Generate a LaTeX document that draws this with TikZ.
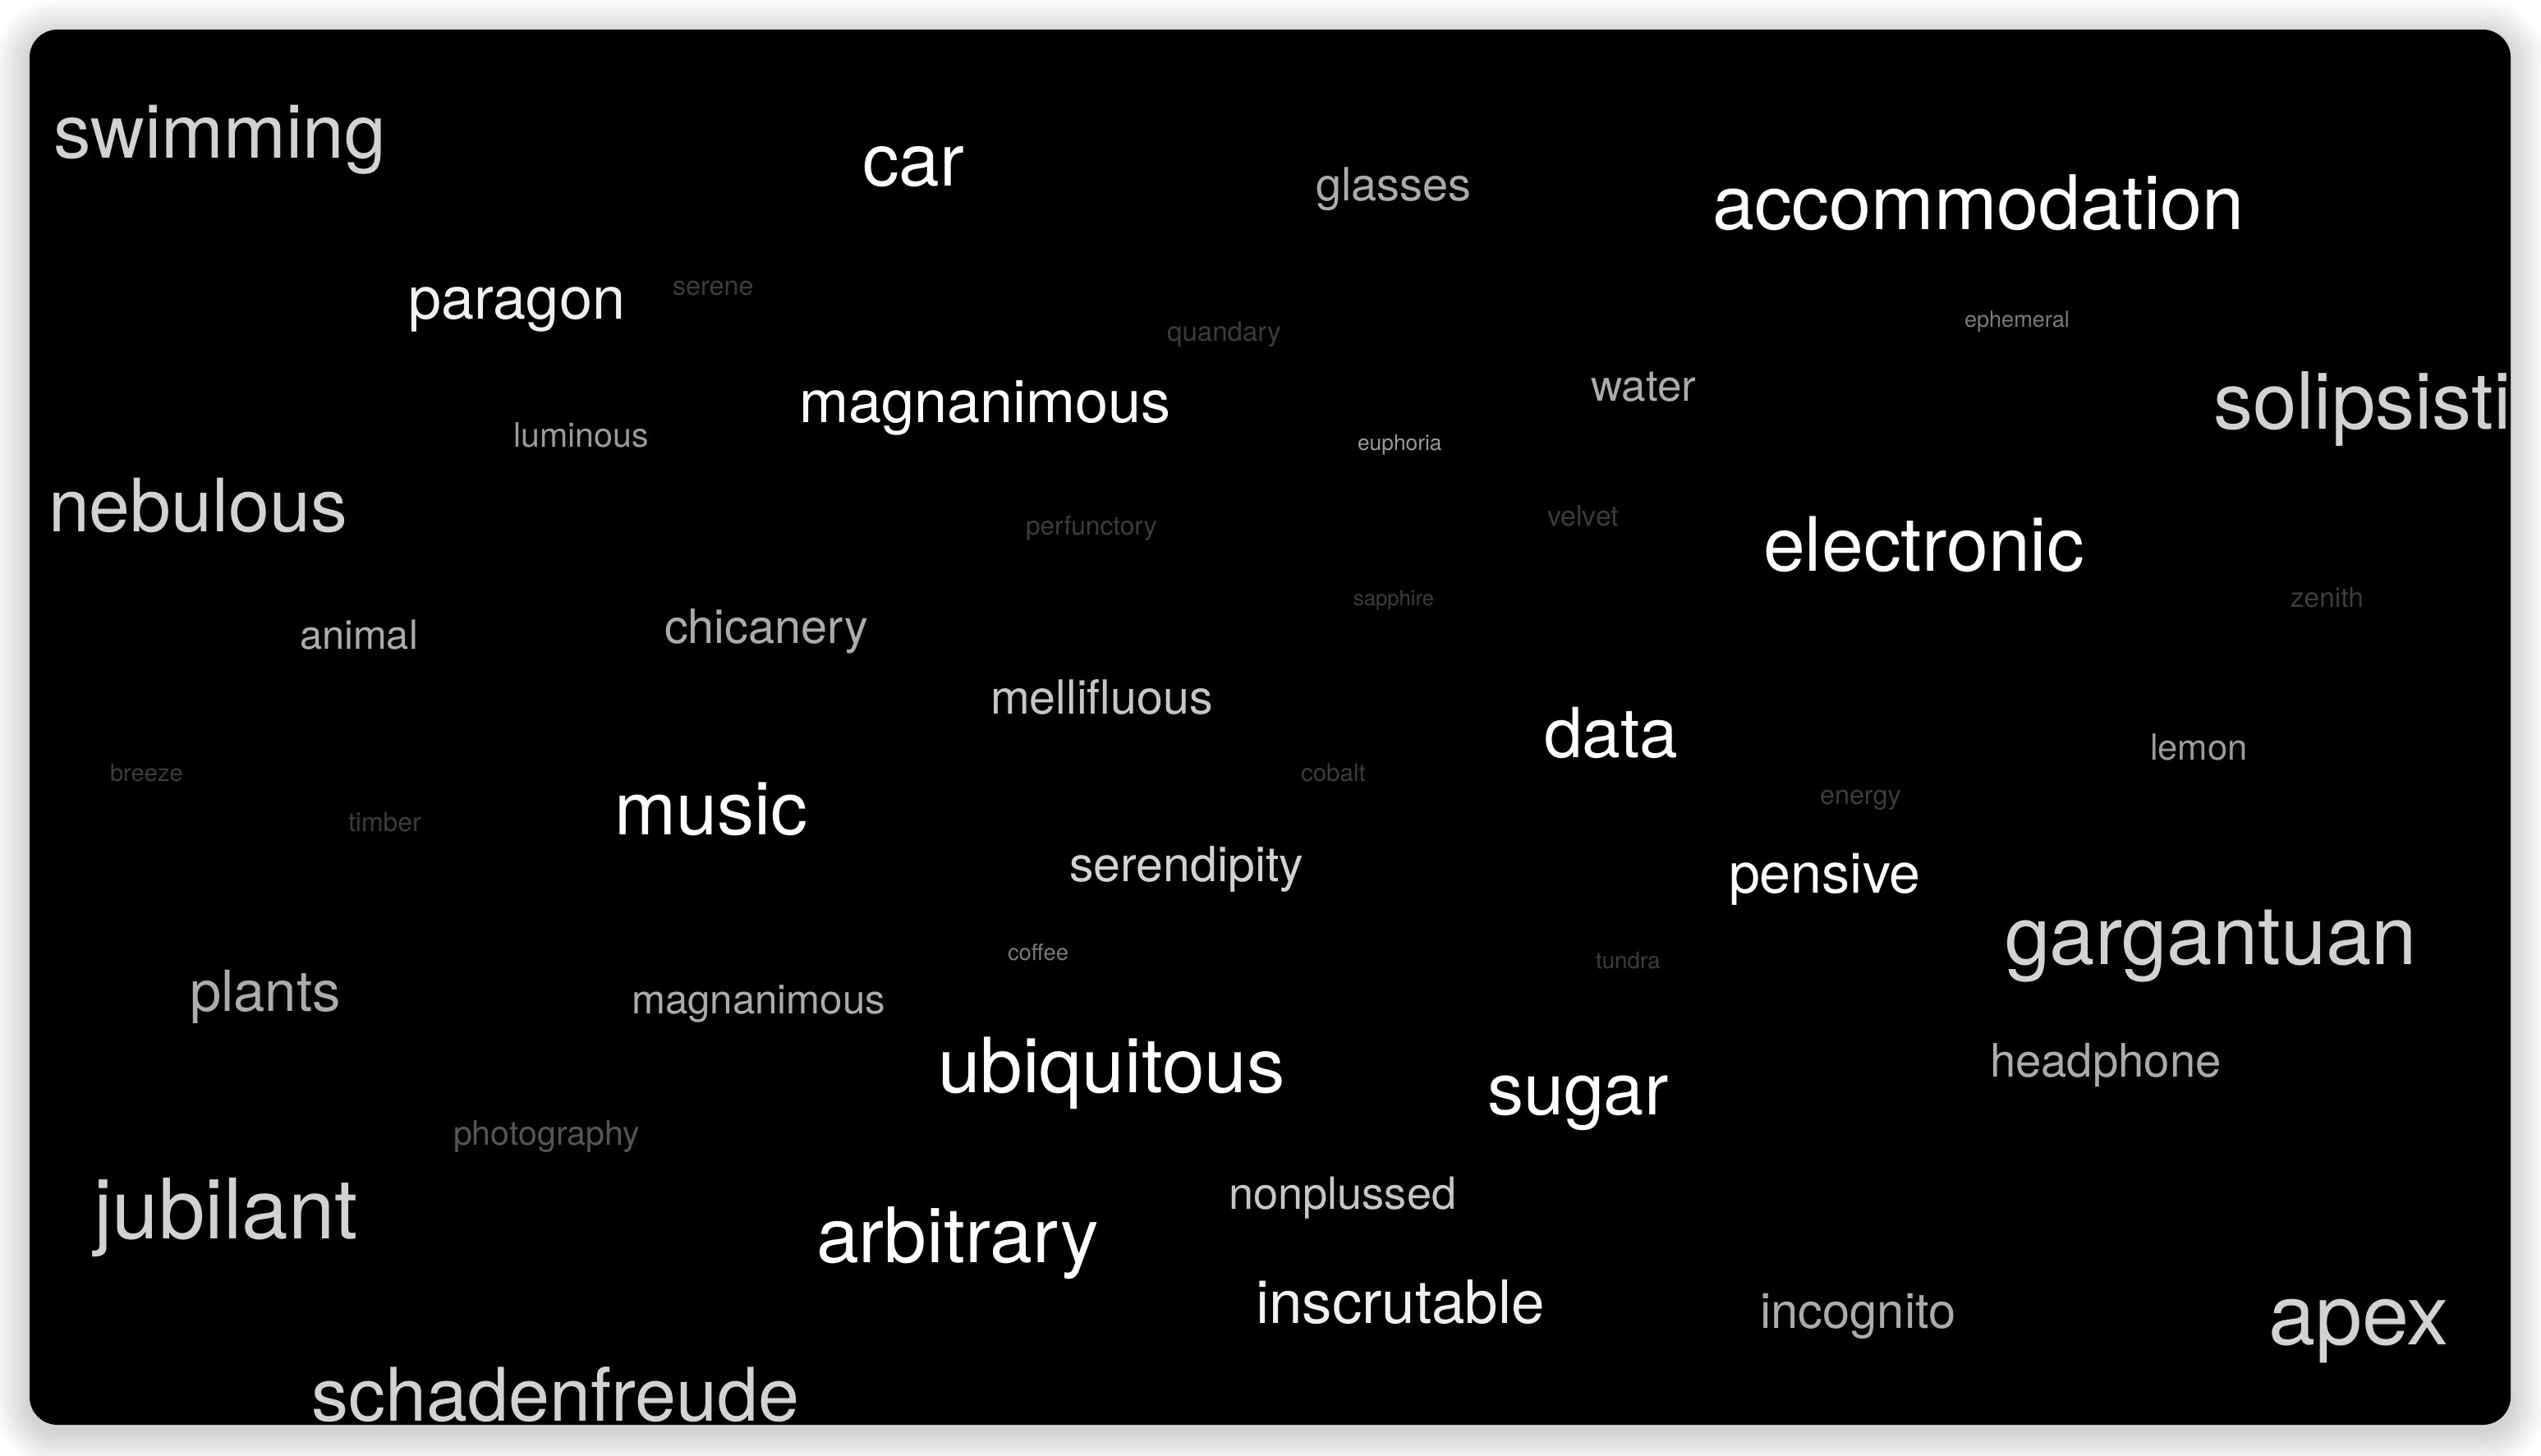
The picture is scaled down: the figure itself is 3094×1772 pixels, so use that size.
\documentclass[tikz,border=0pt]{standalone}
\usepackage{fontspec}
\setmainfont{TeX Gyre Heros}
\newcommand\fz[1]{\fontsize{#1}{#1}\selectfont}
\definecolor{wA}{HTML}{FFFFFF}
\definecolor{wA2}{HTML}{F0F0F0}
\definecolor{wB}{HTML}{D2D2D2}
\definecolor{wB2}{HTML}{C6C6C6}
\definecolor{wC}{HTML}{ABABAB}
\definecolor{wC2}{HTML}{9A9A9A}
\definecolor{wD}{HTML}{7A7A7A}
\definecolor{wE}{HTML}{3C3C3C}
\definecolor{wF}{HTML}{555555}
\tikzset{
  word/.style={anchor=base west, inner sep=0pt, outer sep=0pt},
}
\begin{document}
\begin{tikzpicture}[x=0.01cm,y=-0.01cm]
\useasboundingbox (0,0) rectangle (3094,1772);
\fill[white] (0,0) rectangle (3094,1772);
% soft shadow
\foreach \i in {1,...,22}{
  \fill[black, opacity=0.009, rounded corners={(0.34+0.02*\i)*1cm}]
    ({36-2*\i},{36-2*\i+8}) rectangle ({3057+2*\i},{1735+2*\i+8});
}
% card
\fill[black, rounded corners=0.34cm] (36,36) rectangle (3057,1735);
\begin{scope}
\clip[rounded corners=0.34cm] (36,36) rectangle (3057,1735);
\begin{scope}[yshift=-0.06cm]
\node[word, text=wB,  font=\fz{25.9}] (swimming) at (65,186) {swimming};
\node[word, text=wA,  font=\fz{25.4}] (car) at (1050,220) {car};
\node[word, text=wC,  font=\fz{15.9}] (glasses) at (1602,238) {glasses};
\node[word, text=wA,  font=\fz{26.1}] (accommodation) at (2085,273) {accommodation};
\node[word, text=wA2, font=\fz{20.5}] (paragon) at (497,382) {paragon};
\node[word, text=wE,  font=\fz{9.2}]  (serene) at (819,353) {serene};
\node[word, text=wE,  font=\fz{9.4}]  (quandary) at (1421,409) {quandary};
\node[word, text=wD,  font=\fz{7.7}]  (ephemeral) at (2392,392) {ephemeral};
\node[word, text=wA,  font=\fz{20.5}] (magnanimous) at (973,508) {magnanimous};
\node[word, text=wC,  font=\fz{15.1}] (water) at (1937,482) {water};
\node[word, text=wB,  font=\fz{27.3}] (solipsistic) at (2695,516) {solipsistic};
\node[word, text=wC2, font=\fz{11.7}] (luminous) at (625,538) {luminous};
\node[word, text=wC2, font=\fz{7.5}]  (euphoria) at (1653,542) {euphoria};
\node[word, text=wB,  font=\fz{25.5}] (nebulous) at (59,641) {nebulous};
\node[word, text=wE,  font=\fz{9.0}]  (perfunctory) at (1249,645) {perfunctory};
\node[word, text=wE,  font=\fz{9.7}]  (velvet) at (1884,634) {velvet};
\node[word, text=wA,  font=\fz{26.0}] (electronic) at (2147,689) {electronic};
\node[word, text=wE,  font=\fz{7.3}]  (sapphire) at (1648,731) {sapphire};
\node[word, text=wE,  font=\fz{9.5}]  (zenith) at (2789,733) {zenith};
\node[word, text=wC,  font=\fz{13.9}] (animal) at (365,784) {animal};
\node[word, text=wC,  font=\fz{16.4}] (chicanery) at (809,777) {chicanery};
\node[word, text=wB2, font=\fz{16.3}] (mellifluous) at (1206,863) {mellifluous};
\node[word, text=wA,  font=\fz{23.9}] (data) at (1880,916) {data};
\node[word, text=wC2, font=\fz{12.4}] (lemon) at (2618,919) {lemon};
\node[word, text=wE,  font=\fz{8.3}]  (breeze) at (134,945) {breeze};
\node[word, text=wE,  font=\fz{9.1}]  (timber) at (424,1006) {timber};
\node[word, text=wE,  font=\fz{8.4}]  (cobalt) at (1584,945) {cobalt};
\node[word, text=wE,  font=\fz{9.2}]  (energy) at (2216,973) {energy};
\node[word, text=wA,  font=\fz{25.6}] (music) at (748,1010) {music};
\node[word, text=wB,  font=\fz{16.8}] (serendipity) at (1302,1067) {serendipity};
\node[word, text=wA,  font=\fz{19.4}] (pensive) at (2105,1081) {pensive};
\node[word, text=wB,  font=\fz{28.3}] (gargantuan) at (2441,1168) {gargantuan};
\node[word, text=wD,  font=\fz{7.8}]  (coffee) at (1227,1163) {coffee};
\node[word, text=wE,  font=\fz{7.9}]  (tundra) at (1943,1173) {tundra};
\node[word, text=wC,  font=\fz{19.6}] (plants) at (231,1225) {plants};
\node[word, text=wC,  font=\fz{14.0}] (magnanimous2) at (769,1228) {magnanimous};
\node[word, text=wA,  font=\fz{26.4}] (ubiquitous) at (1142,1324) {ubiquitous};
\node[word, text=wA,  font=\fz{25.1}] (sugar) at (1811,1351) {sugar};
\node[word, text=wC,  font=\fz{16.0}] (headphone) at (2423,1305) {headphone};
\node[word, text=wF,  font=\fz{11.7}] (photography) at (552,1388) {photography};
\node[word, text=wB,  font=\fz{28.9}] (jubilant) at (114,1502) {jubilant};
\node[word, text=wB2, font=\fz{15.4}] (nonplussed) at (1496,1466) {nonplussed};
\node[word, text=wA,  font=\fz{26.5}] (arbitrary) at (994,1531) {arbitrary};
\node[word, text=wA2, font=\fz{20.7}] (inscrutable) at (1529,1605) {inscrutable};
\node[word, text=wC,  font=\fz{17.0}] (incognito) at (2143,1611) {incognito};
\node[word, text=wB,  font=\fz{29.2}] (apex) at (2762,1631) {apex};
\node[word, text=wB,  font=\fz{25.6}] (schadenfreude) at (379,1724) {schadenfreude};
\end{scope}
\end{scope}
\end{tikzpicture}
\end{document}
